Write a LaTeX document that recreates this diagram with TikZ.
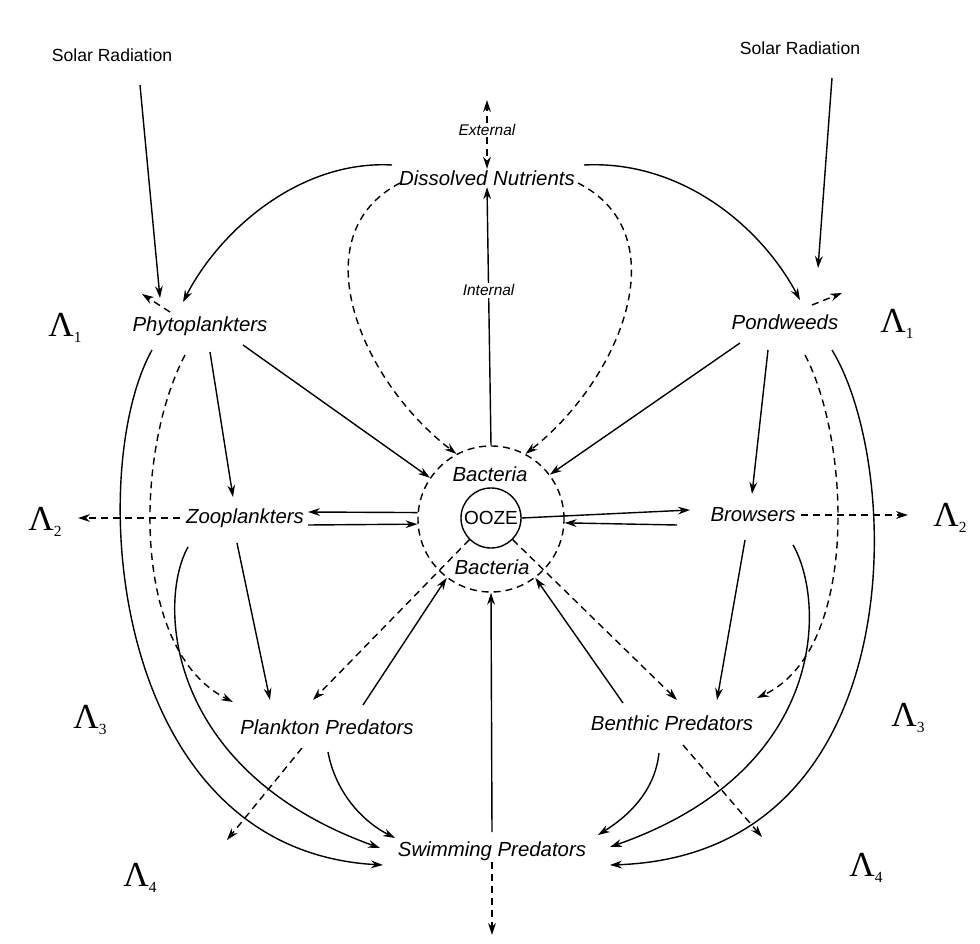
\documentclass[tikz,border=0pt]{standalone}
\usepackage{fontspec}
\setmainfont{Liberation Sans}
\newfontfamily\levfont{Liberation Serif}
\usetikzlibrary{arrows.meta,calc}
\newcommand\lev[1]{{\levfont Λ\raisebox{-4pt}{\fontsize{11}{12}\selectfont #1}}}

\begin{document}
\begin{tikzpicture}[
  x=0.025cm, y=-0.025cm,
  >={Stealth[length=8.5pt,width=5.5pt]},
  every node/.style={font=\fontsize{14.5}{17}\selectfont\itshape, inner sep=1pt},
  small/.style={font=\fontsize{11}{13}\selectfont\itshape},
  sun/.style={font=\fontsize{12.5}{15}\selectfont},
  lev/.style={font=\fontsize{25}{28}\selectfont},
  flow/.style={->, line width=1pt},
  leak/.style={->, line width=1pt, dash pattern=on 5pt off 3.5pt},
  ring/.style={circle, draw, line width=1pt, inner sep=0pt}
]
\useasboundingbox (0,0) rectangle (980,944);

\node[sun] (sun1) at (112,55) {Solar Radiation};
\node[sun] (sun2) at (800,48) {Solar Radiation};
\node[small] (ext) at (487,130) {External};
\node (nut) at (487,178) {Dissolved Nutrients};
\node (phy) at (200,326) {Phytoplankters};
\node (pond) at (785,322) {Pondweeds};
\node (zoo) at (245,518) {Zooplankters};
\node (brow) at (753,515) {Browsers};
\node[ring, dash pattern=on 5pt off 3.5pt, minimum size=3.65cm] (bact) at (491,519) {};
\node[ring, minimum size=1.5cm, font=\fontsize{13.5}{15}\selectfont] (ooze) at (491,518) {OOZE};
\node (bt) at (490,474) {Bacteria};
\node (bb) at (492,567) {Bacteria};
\node (ppred) at (327,727) {Plankton Predators};
\node (bpred) at (672,723) {Benthic Predators};
\node (swim) at (492,851) {Swimming Predators};

\node[lev] (L1a) at (65,328) {\lev{1}};
\node[lev] (L1b) at (897,324) {\lev{1}};
\node[lev] (L2a) at (45,522) {\lev{2}};
\node[lev] (L2b) at (950,518) {\lev{2}};
\node[lev] (L3a) at (90,720) {\lev{3}};
\node[lev] (L3b) at (908,718) {\lev{3}};
\node[lev] (L4a) at (140,878) {\lev{4}};
\node[lev] (L4b) at (866,868) {\lev{4}};

\draw[flow] ($(sun1)+(28,30)$) -- ($(phy)+(-40,-28)$);
\draw[flow] ($(sun2)+(32,30)$) -- ($(pond)+(33,-54)$);
\draw[leak] ($(phy)+(-30,-14)$) -- ($(phy)+(-58,-32)$);
\draw[leak] ($(pond)+(27,-17)$) -- ($(pond)+(57,-29)$);
\draw[flow] ($(nut)+(-95,-13)$) .. controls (300,160) and (220,230) .. ($(phy)+(-17,-24)$);
\draw[flow] ($(nut)+(97,-13)$) .. controls (680,160) and (760,225) .. ($(pond)+(15,-22)$);
\draw[leak] ($(nut)+(-87,5)$) .. controls (300,235) and (360,380) .. (bact.118);
\draw[leak] ($(nut)+(91,5)$) .. controls (680,235) and (620,380) .. (bact.62);
\draw[flow] (bact.north) -- node[small, fill=white, pos=0.6] (int) {Internal} (nut.south);
\draw[leak] (ext.north) -- ($(ext)+(0,-30)$);
\draw[leak] (ext.south) -- (nut.north);

\draw[flow] ($(phy)+(43,19)$) -- (bact.146);
\draw[flow] ($(pond)+(-45,21)$) -- (bact.37);
\draw[flow] ($(phy)+(10,26)$) -- ($(zoo)+(-12,-21)$);
\draw[flow] ($(pond)+(-17,28)$) -- ($(brow)+(-1,-21)$);
\draw[flow] (bact.175) -- ($(zoo)+(63,-6)$);
\draw[flow] ($(zoo)+(63,7)$) -- (bact.184);
\draw[flow] (ooze.east) -- ($(brow)+(-63,-5)$);
\draw[flow] ($(brow)+(-76,10)$) -- (bact.-3);
\draw[leak] ($(zoo)+(-65,0)$) -- ($(L2a)+(33,-4)$);
\draw[leak] ($(brow)+(48,0)$) -- ($(L2b)+(-42,-3)$);

\draw[flow] ($(phy)+(-48,24)$) .. controls (85,470) and (108,850) .. ($(swim)+(-109,14)$);
\draw[leak] ($(phy)+(-15,29)$) .. controls (135,450) and (130,650) .. ($(ppred)+(-94,-25)$);
\draw[flow] ($(zoo)+(-57,29)$) .. controls (158,600) and (163,770) .. ($(swim)+(-112,-3)$);
\draw[flow] ($(zoo)+(-8,25)$) -- ($(ppred)+(-57,-27)$);
\draw[leak] (ooze.225) -- ($(ppred)+(-14,-27)$);
\draw[flow] ($(ppred)+(36,-22)$) -- (bact.233);
\draw[leak] ($(ppred)+(-25,21)$) -- ($(ppred)+(-100,113)$);
\draw[flow] ($(ppred)+(1,25)$) .. controls (335,790) and (360,820) .. ($(swim)+(-97,-13)$);
\draw[flow] ($(swim)+(0,-19)$) -- (bact.south);
\draw[leak] (swim.south) -- ($(swim)+(0,84)$);

\draw[flow] ($(bpred)+(-49,-20)$) -- (bact.307);
\draw[leak] (ooze.-45) -- ($(bpred)+(5,-23)$);
\draw[flow] ($(brow)+(-8,25)$) -- ($(bpred)+(45,-23)$);
\draw[flow] ($(brow)+(40,30)$) .. controls (825,600) and (830,770) .. ($(swim)+(118,-4)$);
\draw[flow] ($(pond)+(47,28)$) .. controls (905,470) and (912,855) .. ($(swim)+(118,14)$);
\draw[leak] ($(pond)+(20,33)$) .. controls (850,440) and (860,650) .. ($(bpred)+(85,-25)$);
\draw[flow] ($(bpred)+(-13,30)$) .. controls (655,790) and (630,815) .. ($(swim)+(106,-16)$);
\draw[leak] ($(bpred)+(11,22)$) -- ($(bpred)+(90,114)$);
\end{tikzpicture}
\end{document}
